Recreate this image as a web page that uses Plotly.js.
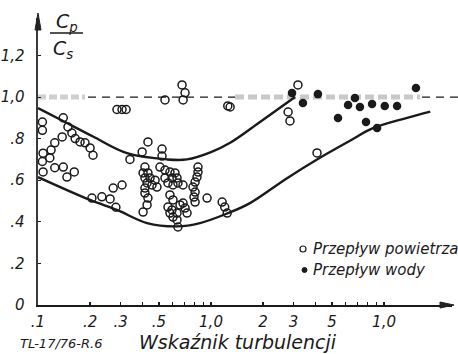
<!DOCTYPE html>
<html><head><meta charset="utf-8">
<script src="https://cdn.plot.ly/plotly-3.0.1.min.js"></script>
<style>html,body{margin:0;padding:0;background:#fff}#chart{width:458px;height:354px}</style>
</head><body><div id="chart"></div>
<script>
// Envelope curves
const upperX = [0.1, 0.147, 0.208, 0.327, 0.557, 0.727, 1.0, 1.29, 1.92, 3.06];
const upperY = [0.947, 0.875, 0.81, 0.73, 0.70, 0.70, 0.735, 0.78, 0.88, 1.0];
const lowerX = [0.1, 0.2, 0.286, 0.427, 0.636, 0.863, 1.24, 1.68, 2.75, 4.10, 6.36, 8.63, 13.6, 18.5];
const lowerY = [0.615, 0.505, 0.457, 0.394, 0.378, 0.394, 0.44, 0.49, 0.61, 0.70, 0.79, 0.85, 0.90, 0.93];
// Air flow (open circles)
const airX = [0.106,0.106,0.14,0.149,0.157,0.164,0.175,0.187,0.20,0.208,
0.138,0.125,0.119,0.107,0.106,0.117,0.107,0.125,0.14,0.147,
0.162,0.34,0.272,0.306,0.205,0.234,0.261,0.282,0.286,0.306,
0.323,0.68,0.708,0.69,0.542,1.25,0.432,0.40,0.521,0.521,
0.415,0.405,0.432,0.415,0.444,0.475,0.427,0.456,0.487,0.415,
0.507,0.542,0.579,0.619,0.595,0.636,0.564,0.603,0.644,0.689,
0.542,0.841,0.841,0.83,0.809,0.787,0.809,0.797,0.809,0.949,
0.415,0.432,0.427,0.405,0.579,0.603,0.564,0.595,0.636,0.603,
0.636,0.644,0.662,0.708,0.727,0.579,0.689,1.16,1.2,1.24,
1.29,3.18,2.79,2.86,4.10];
const airY = [0.88,0.84,0.90,0.856,0.827,0.80,0.784,0.78,0.755,0.72,
0.808,0.78,0.745,0.73,0.69,0.707,0.64,0.66,0.663,0.615,
0.64,0.70,0.5625,0.577,0.514,0.52,0.51,0.47,0.94,0.94,
0.94,1.058,1.02,0.986,0.986,0.957,0.784,0.736,0.75,0.716,
0.663,0.635,0.635,0.611,0.611,0.60,0.587,0.577,0.567,0.5625,
0.663,0.649,0.639,0.635,0.611,0.611,0.587,0.577,0.587,0.577,
0.611,0.663,0.639,0.615,0.591,0.567,0.543,0.519,0.495,0.514,
0.538,0.514,0.481,0.447,0.529,0.505,0.471,0.457,0.442,0.423,
0.409,0.375,0.481,0.466,0.442,0.442,0.49,0.495,0.471,0.442,
0.952,1.058,0.928,0.885,0.731];
// Water flow (filled circles)
const waterX = [2.94,3.40,4.15,5.42,6.20,6.79,7.26,8.53,10.1,11.9,7.87,9.12,15.3];
const waterY = [1.019,0.971,1.014,0.899,0.962,0.995,0.952,0.966,0.957,0.957,0.88,0.851,1.043];
// Ticks
const xTickVals = [0.1,0.2,0.3,0.5,1,2,3,5,10];
const xTickText = ['.1','.2','.3','.5','1,0','2','3','5','1,0'];
const xMinorVals = [0.4,0.6,0.7,0.8,0.9,4,6,7,8,9];
const yTickVals = [0,0.2,0.4,0.6,0.8,1.0,1.2];
const yTickText = ['0','.2','.4','.6','.8','1,0','1,2'];
const legendLabels = ['Przepływ powietrza','Przepływ wody'];
const xTitle = 'Wskaźnik turbulencji';
const figCode = 'TL-17/76-R.6';

const FONT = 'DejaVu Sans';
const INK = '#1a1a1a';
const px = p => (p-38)/414, py = p => (305-p)/287;

const traces = [
 {x: upperX, y: upperY, mode:'lines', line:{color:INK, width:2.4, shape:'spline', smoothing:1}, hoverinfo:'skip'},
 {x: lowerX, y: lowerY, mode:'lines', line:{color:INK, width:2.4, shape:'spline', smoothing:1}, hoverinfo:'skip'},
 {x: airX, y: airY, mode:'markers', name:legendLabels[0], marker:{symbol:'circle-open', size:8, color:INK, line:{width:1.5, color:INK}}},
 {x: waterX, y: waterY, mode:'markers', name:legendLabels[1], marker:{symbol:'circle', size:8.5, color:INK}}
];
const tf = {family:FONT, size:15, style:'italic', color:INK};
const layout = {
 width:458, height:354, margin:{l:38, r:6, t:18, b:49}, showlegend:false,
 paper_bgcolor:'#fff', plot_bgcolor:'#fff',
 xaxis:{type:'log', range:[-1,1.393], tickmode:'array', tickvals:xTickVals, ticktext:xTickText,
   ticks:'inside', ticklen:3, tickcolor:INK, tickwidth:1.2, showline:true, linecolor:INK, linewidth:1.6,
   showgrid:false, zeroline:false, tickfont:tf, ticklabelstandoff:2,
   minor:{tickmode:'array', tickvals:xMinorVals, ticks:'inside', ticklen:3, tickcolor:INK, tickwidth:1, showgrid:false}},
 yaxis:{range:[0,1.38], tickmode:'array', tickvals:yTickVals, ticktext:yTickText,
   ticks:'inside', ticklen:3, tickcolor:INK, showline:true, linecolor:'#3a3a3a', linewidth:2.5,
   showgrid:false, zeroline:false, tickfont:tf, ticklabelstandoff:8},
 shapes:[
  {type:'line', xref:'paper', yref:'y', x0:0, x1:px(85), y0:1, y1:1, layer:'below', line:{color:'#cfcfcf', width:5, dash:'8px,3px'}},
  {type:'line', xref:'paper', yref:'y', x0:px(235), x1:px(420), y0:1, y1:1, layer:'below', line:{color:'#c8c8c8', width:5, dash:'9px,4px'}},
  {type:'line', xref:'paper', yref:'y', x0:px(88), x1:px(235), y0:1, y1:1, line:{color:INK, width:1.3, dash:'8px,6px'}},
  {type:'line', xref:'paper', yref:'y', x0:px(422), x1:px(458), y0:1, y1:1, line:{color:INK, width:1.3, dash:'8px,6px'}},
  {type:'path', xref:'paper', yref:'paper', path:`M ${px(35)} ${py(30)} L ${px(38)} ${py(13)} L ${px(41)} ${py(30)} Z`, fillcolor:'#222', line:{color:'#222', width:1}},
  {type:'path', xref:'paper', yref:'paper', path:`M ${px(440)} ${py(302)} L ${px(454)} ${py(305)} L ${px(440)} ${py(308)} Z`, fillcolor:'#222', line:{color:'#222', width:1}},
  {type:'line', xref:'paper', yref:'paper', x0:px(50), x1:px(83), y0:py(33), y1:py(33), line:{color:INK, width:1.6}},
  {type:'circle', xref:'paper', yref:'paper', x0:px(300), x1:px(306), y0:py(252), y1:py(246), line:{color:INK, width:1.2}},
  {type:'circle', xref:'paper', yref:'paper', x0:px(302), x1:px(307), y0:py(272.5), y1:py(267.5), fillcolor:INK, line:{color:INK, width:1}}
 ],
 annotations:[
  {xref:'paper', yref:'paper', x:px(67), y:py(23), text:'C<sub>p</sub>', showarrow:false, xanchor:'center', yanchor:'middle', font:{family:FONT, size:19, style:'italic', color:INK}},
  {xref:'paper', yref:'paper', x:px(63), y:py(49), text:'C<sub>s</sub>', showarrow:false, xanchor:'center', yanchor:'middle', font:{family:FONT, size:19, style:'italic', color:INK}},
  {xref:'paper', yref:'paper', x:px(311), y:py(249), text:legendLabels[0], showarrow:false, xanchor:'left', yanchor:'middle', font:{family:FONT, size:15, style:'italic', color:INK}},
  {xref:'paper', yref:'paper', x:px(311), y:py(270), text:legendLabels[1], showarrow:false, xanchor:'left', yanchor:'middle', font:{family:FONT, size:15, style:'italic', color:INK}},
  {xref:'paper', yref:'paper', x:px(18), y:py(343), text:figCode, showarrow:false, xanchor:'left', yanchor:'middle', font:{family:FONT, size:13, style:'italic', color:INK}},
  {xref:'paper', yref:'paper', x:px(137), y:py(342), text:xTitle, showarrow:false, xanchor:'left', yanchor:'middle', font:{family:FONT, size:19, style:'italic', color:INK}}
 ]
};
Plotly.newPlot('chart', traces, layout, {staticPlot:true, displayModeBar:false});
</script></body></html>
